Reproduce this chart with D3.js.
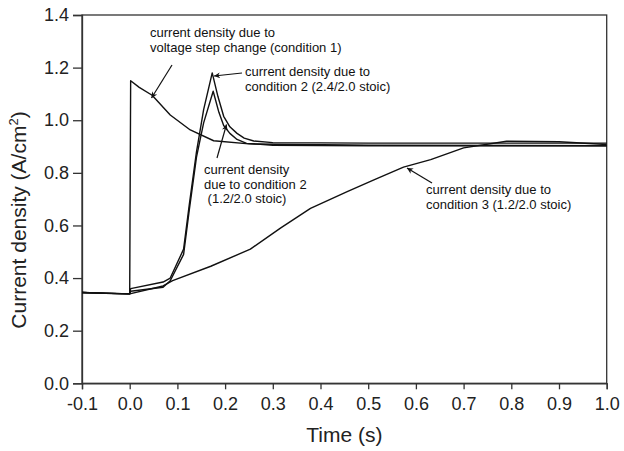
<!DOCTYPE html>
<html>
<head>
<meta charset="utf-8">
<script src="https://cdn.jsdelivr.net/npm/d3@7"></script>
<style>
  body { margin: 0; background: #fff; }
  svg { font-family: "Liberation Sans", Arial, Helvetica, sans-serif; }
</style>
</head>
<body>
<svg id="chart" width="624" height="451"></svg>
<script>
// tick labels
const xTicks = [-0.1, 0.0, 0.1, 0.2, 0.3, 0.4, 0.5, 0.6, 0.7, 0.8, 0.9, 1.0]
const yTicks = [0.0, 0.2, 0.4, 0.6, 0.8, 1.0, 1.2, 1.4]

// condition 1: voltage step change
const cond1 = [[-0.1, 0.345], [0.0, 0.34], [0.002, 1.15], [0.02, 1.125], [0.047, 1.095], [0.085, 1.02],
  [0.127, 0.963], [0.176, 0.922], [0.25, 0.91], [0.5, 0.905], [1.0, 0.903]]

// condition 2, 2.4/2.0 stoic
const cond2High = [[-0.1, 0.345], [-0.05, 0.342], [0.0, 0.34], [0.002, 0.36], [0.07, 0.385], [0.085, 0.4],
  [0.113, 0.51], [0.125, 0.68], [0.14, 0.88], [0.155, 1.04], [0.173, 1.18], [0.185, 1.09],
  [0.197, 1.015], [0.21, 0.975], [0.225, 0.95], [0.24, 0.932], [0.26, 0.921], [0.3, 0.915],
  [0.5, 0.913], [1.0, 0.913]]

// condition 2, 1.2/2.0 stoic
const cond2Low = [[-0.1, 0.345], [-0.05, 0.342], [0.0, 0.34], [0.002, 0.35], [0.07, 0.365], [0.085, 0.39],
  [0.113, 0.49], [0.125, 0.66], [0.14, 0.86], [0.155, 0.99], [0.175, 1.11], [0.187, 1.03],
  [0.197, 0.98], [0.21, 0.95], [0.225, 0.927], [0.245, 0.912], [0.3, 0.905], [0.5, 0.903], [1.0, 0.903]]

// condition 3, 1.2/2.0 stoic
const cond3 = [[-0.1, 0.345], [0.0, 0.34], [0.07, 0.37], [0.09, 0.39], [0.17, 0.445], [0.253, 0.51],
  [0.316, 0.59], [0.379, 0.665], [0.456, 0.729], [0.512, 0.773], [0.574, 0.822], [0.631, 0.85],
  [0.7, 0.895], [0.79, 0.92], [0.9, 0.918], [1.0, 0.908]]

const notes = [
  { lines: ['current density due to', 'voltage step change (condition 1)'], x: 150, y: 37, from: [172, 65], to: [151.5, 98] },
  { lines: ['current density due to', 'condition 2 (2.4/2.0 stoic)'], x: 245, y: 76, from: [242, 73], to: [214, 76] },
  { lines: ['current density', 'due to condition 2', '\u00a0(1.2/2.0 stoic)'], x: 204, y: 174, from: [217, 158], to: [226.5, 124.5] },
  { lines: ['current density due to', 'condition 3 (1.2/2.0 stoic)'], x: 426, y: 194, from: [432, 183], to: [407, 168] }
]

const svg = d3.select('#chart')
const plotLeft = 82, plotRight = 606.7, plotTop = 15, plotBottom = 383.3

const x = d3.scaleLinear().domain([-0.1, 1.0]).range([plotLeft, plotRight])
const y = d3.scaleLinear().domain([0, 1.4]).range([plotBottom, plotTop])

// frame
svg.append('rect')
  .attr('x', plotLeft).attr('y', plotTop)
  .attr('width', plotRight - plotLeft).attr('height', plotBottom - plotTop)
  .attr('fill', 'none').attr('stroke', '#333').attr('stroke-width', 1.3)

const xAxis = svg.append('g')
  .attr('transform', `translate(0,${plotBottom})`)
  .call(d3.axisBottom(x).tickValues(xTicks).tickSize(6).tickPadding(8).tickFormat(d => d.toFixed(1)))
const yAxis = svg.append('g')
  .attr('transform', `translate(${plotLeft},0)`)
  .call(d3.axisLeft(y).tickValues(yTicks).tickSize(9).tickPadding(4).tickFormat(d => d.toFixed(1)))

for (const ax of [xAxis, yAxis]) {
  ax.select('.domain').attr('stroke', '#333').attr('stroke-width', 1.3)
  ax.selectAll('.tick line').attr('stroke', '#333').attr('stroke-width', 1.3)
  ax.selectAll('.tick text').attr('font-size', 18).attr('fill', '#222')
    .style('font-family', '"Liberation Sans", Arial, sans-serif')
}

// axis titles
svg.append('text')
  .attr('x', (plotLeft + plotRight) / 2).attr('y', 442)
  .attr('text-anchor', 'middle').attr('font-size', 21).attr('fill', '#222')
  .text('Time (s)')

const yTitle = svg.append('text')
  .attr('transform', 'translate(26,220) rotate(-90)')
  .attr('text-anchor', 'middle').attr('font-size', 21).attr('fill', '#222')
yTitle.append('tspan').text('Current density (A/cm')
yTitle.append('tspan').attr('font-size', 13).attr('dy', -8).text('2')
yTitle.append('tspan').attr('dy', 8).text(')')

// curves
const line = d3.line().x(d => x(d[0])).y(d => y(d[1]))
for (const series of [cond3, cond1, cond2Low, cond2High]) {
  svg.append('path')
    .datum(series)
    .attr('d', line)
    .attr('fill', 'none')
    .attr('stroke', '#111')
    .attr('stroke-width', 1.4)
    .attr('stroke-linejoin', 'round')
}

// arrow marker
svg.append('defs').append('marker')
  .attr('id', 'head')
  .attr('viewBox', '0 0 10 10')
  .attr('refX', 10).attr('refY', 5)
  .attr('markerWidth', 8).attr('markerHeight', 6)
  .attr('markerUnits', 'userSpaceOnUse')
  .attr('orient', 'auto')
  .append('path').attr('d', 'M0,0 L10,5 L0,10 L3,5 Z').attr('fill', '#111')

for (const n of notes) {
  const t = svg.append('text')
    .attr('x', n.x).attr('y', n.y)
    .attr('font-size', 13).attr('fill', '#111')
  n.lines.forEach((s, i) => {
    t.append('tspan').attr('x', n.x).attr('dy', i == 0 ? 0 : 14.5).text(s)
  })
  svg.append('line')
    .attr('x1', n.from[0]).attr('y1', n.from[1])
    .attr('x2', n.to[0]).attr('y2', n.to[1])
    .attr('stroke', '#111').attr('stroke-width', 1.2)
    .attr('marker-end', 'url(#head)')
}
</script>
</body>
</html>
